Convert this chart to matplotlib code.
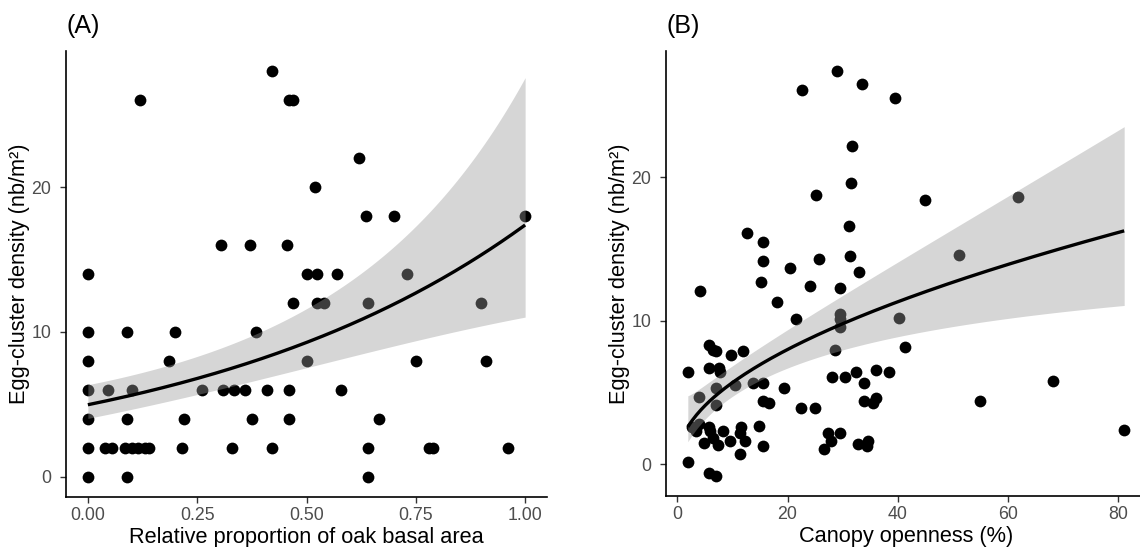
import numpy as np
import matplotlib
matplotlib.use("Agg")
import matplotlib.pyplot as plt

# (A) egg-cluster density vs relative proportion of oak basal area
oak_prop = [0.42, 0.12, 0.46, 0.47, 0.62, 0.52, 0.635, 0.70, 1.00,
            0.305, 0.37, 0.455, 0.0, 0.50, 0.525, 0.57, 0.73,
            0.47, 0.525, 0.54, 0.64, 0.90, 0.0, 0.09, 0.20, 0.385,
            0.0, 0.185, 0.50, 0.75, 0.91,
            0.0, 0.045, 0.10, 0.26, 0.31, 0.335, 0.36, 0.41, 0.46, 0.58,
            0.0, 0.09, 0.22, 0.375, 0.46, 0.665,
            0.0, 0.04, 0.055, 0.085, 0.10, 0.115, 0.13, 0.14, 0.215, 0.33, 0.42, 0.64, 0.78, 0.79, 0.96,
            0.0, 0.09, 0.64]
oak_density = [28, 26, 26, 26, 22, 20, 18, 18, 18,
               16, 16, 16, 14, 14, 14, 14, 14,
               12, 12, 12, 12, 12, 10, 10, 10, 10,
               8, 8, 8, 8, 8,
               6, 6, 6, 6, 6, 6, 6, 6, 6, 6,
               4, 4, 4, 4, 4, 4,
               2, 2, 2, 2, 2, 2, 2, 2, 2, 2, 2, 2, 2, 2, 2,
               0, 0, 0]
# fitted curve and 95% band
oak_fit_x = [0.0, 0.25, 0.5, 0.75, 1.0]
oak_fit_mid = [5.0, 6.7, 9.3, 12.8, 17.3]
oak_fit_lo = [4.05, 5.6, 7.6, 9.4, 11.0]
oak_fit_hi = [6.5, 7.9, 11.8, 17.8, 27.1]

# (B) egg-cluster density vs canopy openness
canopy_open = [22.7, 29.0, 33.6, 39.5, 31.7, 31.6, 25.1, 31.1, 12.6, 15.6, 15.6, 20.5, 25.7, 31.3, 32.9,
               15.1, 4.1, 24.0, 29.5, 44.9, 61.8, 51.1, 18.1, 21.5, 29.5, 29.5, 29.5, 40.3, 28.7,
               5.8, 6.4, 7.1, 9.8, 11.9, 1.9, 5.8, 7.6, 7.8, 7.0, 10.4, 13.7, 15.5, 19.3, 3.9, 7.1,
               15.5, 16.7, 22.5, 24.9, 28.1, 30.5, 32.5, 33.8, 36.0, 38.5, 33.8, 35.5, 36.1,
               2.7, 3.3, 4.0, 5.8, 6.0, 8.2, 11.6, 11.3, 12.2, 14.8, 4.9, 6.4, 7.3, 9.5, 15.5, 11.4,
               1.9, 5.8, 7.1, 27.3, 27.8, 26.6, 29.6, 32.8, 34.6, 34.4, 41.3, 54.9, 68.1, 81.1]
canopy_density = [26.1, 27.4, 26.5, 25.5, 22.2, 19.6, 18.8, 16.6, 16.1, 15.5, 14.2, 13.7, 14.3, 14.5, 13.4,
                  12.7, 12.1, 12.4, 12.3, 18.4, 18.6, 14.6, 11.3, 10.1, 10.5, 10.1, 9.6, 10.2, 7.95,
                  8.3, 8.0, 7.9, 7.6, 7.9, 6.4, 6.7, 6.7, 6.4, 5.3, 5.5, 5.7, 5.7, 5.3, 4.7, 4.1,
                  4.4, 4.3, 3.9, 3.9, 6.1, 6.1, 6.4, 5.7, 6.6, 6.4, 4.4, 4.3, 4.65,
                  2.6, 2.3, 2.8, 2.6, 2.3, 2.3, 2.6, 2.2, 1.6, 2.7, 1.5, 1.8, 1.35, 1.6, 1.3, 0.7,
                  0.15, -0.6, -0.8, 2.2, 1.6, 1.1, 2.2, 1.4, 1.6, 1.3, 8.2, 4.4, 5.8, 2.4]
canopy_fit_x = [1.9, 10, 20, 30, 40, 50, 60, 70, 81.1]
canopy_fit_mid = [2.6, 5.7, 8.0, 9.8, 11.3, 12.7, 13.95, 15.1, 16.25]
canopy_fit_lo = [1.58, 4.6, 6.8, 8.3, 8.9, 9.5, 9.84, 10.6, 11.27]
canopy_fit_hi = [4.76, 7.0, 9.3, 11.5, 14.0, 16.6, 18.95, 21.1, 23.3]

TICK_GREY = "#4d4d4d"


def smooth_band(xs, ys, grid, logx=False):
    # smooth the read-off values with a quadratic on the log scale
    u = np.log(xs) if logx else np.asarray(xs, float)
    g = np.log(grid) if logx else grid
    coef = np.polyfit(u, np.log(ys), 2)
    return np.exp(np.polyval(coef, g))


def draw_panel(ax, x, y, fx, fmid, flo, fhi, logx, xticks, xticklabels, xlabel, tag):
    grid = np.linspace(min(fx), max(fx), 200)
    mid = smooth_band(fx, fmid, grid, logx)
    lo = smooth_band(fx, flo, grid, logx)
    hi = smooth_band(fx, fhi, grid, logx)
    ax.scatter(x, y, s=72, color="black", linewidths=0, zorder=2, clip_on=False)
    ax.fill_between(grid, lo, hi, color="#999999", alpha=0.4, linewidth=0, zorder=3)
    ax.plot(grid, mid, color="black", lw=2.4, zorder=4, solid_capstyle="butt")

    xr = max(max(x), max(fx)) - min(min(x), min(fx))
    ax.set_xlim(min(min(x), min(fx)) - 0.05 * xr, max(max(x), max(fx)) + 0.05 * xr)
    ylo = min(min(y), min(flo)); yhi = max(max(y), max(fhi))
    yr = yhi - ylo
    ax.set_ylim(ylo - 0.05 * yr, yhi + 0.05 * yr)

    ax.set_xticks(xticks, xticklabels)
    ax.set_yticks([0, 10, 20])
    for s in ["top", "right"]:
        ax.spines[s].set_visible(False)
    for s in ["left", "bottom"]:
        ax.spines[s].set_linewidth(1.2)
        ax.spines[s].set_color("black")
    ax.tick_params(length=4.5, width=1.0, color="#333333", labelcolor=TICK_GREY, labelsize=12.8)
    ax.tick_params(axis="x", pad=2.5)
    ax.tick_params(axis="y", pad=6)
    ax.set_xlabel(xlabel, fontsize=15.7, color="black")
    ax.set_ylabel("Egg-cluster density (nb/m²)", fontsize=15.7, color="black")
    ax.xaxis.set_label_coords(0.5, -0.068)
    ax.yaxis.set_label_coords(-0.075, 0.5)
    ax.set_title(tag, loc="left", fontsize=18, pad=13, x=-0.0)


plt.rcParams["font.family"] = ["Liberation Sans", "DejaVu Sans"]
fig = plt.figure(figsize=(11.40, 5.47), dpi=100)
ax_a = fig.add_axes([66 / 1140, 50 / 547, 481 / 1140, 446 / 547])
ax_b = fig.add_axes([666 / 1140, 51 / 547, 480 / 1140, 445 / 547])

draw_panel(ax_a, oak_prop, oak_density, oak_fit_x, oak_fit_mid, oak_fit_lo, oak_fit_hi, False,
           [0, 0.25, 0.5, 0.75, 1.0], ["0.00", "0.25", "0.50", "0.75", "1.00"],
           "Relative proportion of oak basal area", "(A)")
draw_panel(ax_b, canopy_open, canopy_density, canopy_fit_x, canopy_fit_mid, canopy_fit_lo, canopy_fit_hi, True,
           [0, 20, 40, 60, 80], ["0", "20", "40", "60", "80"],
           "Canopy openness (%)", "(B)")

fig.savefig("out.png", dpi=100)
